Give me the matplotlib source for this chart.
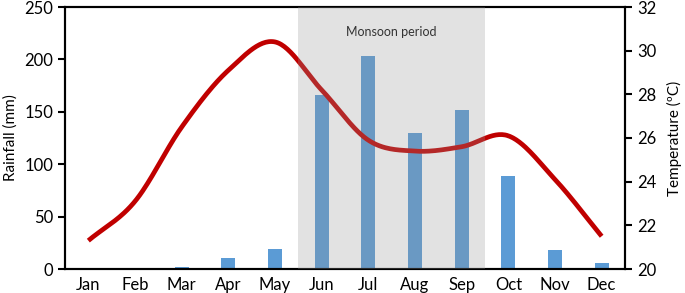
import numpy as np
import matplotlib
matplotlib.use("Agg")
import matplotlib.pyplot as plt
from matplotlib.patches import Rectangle

months = ["Jan", "Feb", "Mar", "Apr", "May", "Jun", "Jul", "Aug", "Sep", "Oct", "Nov", "Dec"]
rainfall = [0, 0.5, 2, 10.5, 19, 166, 203.5, 130, 152, 89, 18, 5.5]
temperature = [21.3, 23.1, 26.5, 29.1, 30.4, 28.2, 25.9, 25.4, 25.6, 26.1, 24.1, 21.5]
monsoon_start, monsoon_end = "Jun", "Sep"

plt.rcParams['font.family'] = ['Lato', 'DejaVu Sans']

fig = plt.figure(figsize=(6.85, 2.93), dpi=100)
ax = fig.add_axes([65/685, 1 - 269/293, (625-65)/685, (269-7)/293])
ax2 = ax.twinx()

x = np.arange(len(months))
ax.bar(x, rainfall, width=0.3, color="#5b9bd5", zorder=2)
ax.set_xlim(-0.5, len(months) - 0.5)
ax.set_ylim(0, 250)
ax.set_yticks([0, 50, 100, 150, 200, 250])
ax.set_xticks(x)
ax.set_xticklabels(months)
ax.set_ylabel("Rainfall (mm)", fontsize=11, labelpad=5)

# Smooth (Catmull-Rom) line through temperature points
def catmull_rom(xs, ys, n=30):
    xs = np.asarray(xs, float); ys = np.asarray(ys, float)
    px = np.concatenate([[2*xs[0]-xs[1]], xs, [2*xs[-1]-xs[-2]]])
    py = np.concatenate([[2*ys[0]-ys[1]], ys, [2*ys[-1]-ys[-2]]])
    outx, outy = [], []
    for i in range(1, len(px) - 2):
        t = np.linspace(0, 1, n, endpoint=False)
        for arr, out in ((px, outx), (py, outy)):
            p0, p1, p2, p3 = arr[i-1], arr[i], arr[i+1], arr[i+2]
            out.extend(0.5*((2*p1) + (-p0+p2)*t + (2*p0-5*p1+4*p2-p3)*t**2 + (-p0+3*p1-3*p2+p3)*t**3))
    outx.append(xs[-1]); outy.append(ys[-1])
    return np.array(outx), np.array(outy)

sx, sy = catmull_rom(x, temperature)
ax2.plot(sx, sy, color="#c00000", lw=3.4, solid_capstyle="butt", zorder=3)
ax2.set_ylim(20, 32)
ax2.set_yticks([20, 22, 24, 26, 28, 30, 32])
ax2.set_ylabel("Temperature (ºC)", fontsize=11, labelpad=8)

i0, i1 = months.index(monsoon_start), months.index(monsoon_end)
rect = Rectangle((i0 - 0.5, 0), (i1 - i0) + 1, 1, transform=ax2.get_xaxis_transform(),
                 facecolor=(0.59, 0.59, 0.59), alpha=0.27, edgecolor="none", zorder=5)
ax2.add_patch(rect)
ax2.text((i0 + i1) / 2, 0.905, "Monsoon period", transform=ax2.get_xaxis_transform(),
         ha="center", va="center", fontsize=9, color="#333333", zorder=6)

for a in (ax, ax2):
    for s in a.spines.values():
        s.set_linewidth(1.5)
        s.set_color("black")
    a.tick_params(axis="y", labelsize=12, width=1.5, length=5, direction="out")
ax.tick_params(axis="x", length=0, labelsize=12, pad=6)

fig.savefig("out.png", dpi=100)
